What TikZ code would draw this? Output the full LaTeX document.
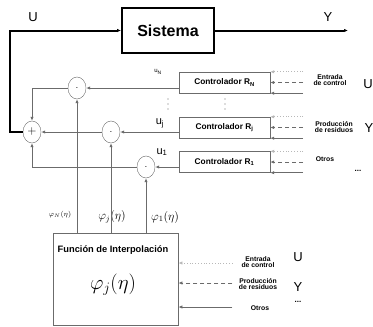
\documentclass[tikz,border=0pt]{standalone}
\usepackage{amsmath,amssymb}
\usepackage{fontspec}
\setsansfont{Liberation Sans}
\usepackage{xcolor}
\usetikzlibrary{arrows.meta,positioning,calc,shapes.geometric}
\definecolor{linegray}{gray}{0.42}
\definecolor{dotgray}{gray}{0.72}
\newcommand{\sz}[1]{\fontsize{#1}{#1}\selectfont}

\begin{document}
\begin{tikzpicture}[x=1pt,y=-1pt,>={Latex[length=4pt,width=3.4pt]},
  ctrl/.style={draw=linegray,minimum width=91pt,minimum height=21pt,inner sep=0pt,font=\sffamily\bfseries\sz{8.3}},
  mult/.style={draw=linegray,ellipse,minimum width=18pt,minimum height=22pt,inner sep=0pt},
  wire/.style={linegray,line width=0.8pt},
  note/.style={font=\sffamily\bfseries\sz{6.8}\linespread{1.1},align=center},
  sig/.style={font=\sffamily\sz{13}}]
  \useasboundingbox (0,0) rectangle (373,327);
  \node[draw,line width=1.8pt,minimum width=92pt,minimum height=45pt,font=\sffamily\bfseries\sz{16}] (sis) at (168,30.5) {Sistema};
  \node[sig] (uout) at (33,17) {U};
  \node[sig] (yout) at (328,17) {Y};
  \coordinate (corner) at (10,132);
  \coordinate (yend) at (348,30.5);
  \node[mult,font=\sz{12}] (sum) at (32,132) {+};
  \node[mult] (mN) at (77,88) {$\cdot$};
  \node[mult] (mj) at (111,132) {$\cdot$};
  \node[mult] (m1) at (146,167) {$\cdot$};
  \node[ctrl] (rN) at (224.5,82.5) {Controlador R\textsubscript{N}};
  \node[ctrl] (rj) at (224.5,127.5) {Controlador R\textsubscript{j}};
  \node[ctrl] (r1) at (224.5,162) {Controlador R\textsubscript{1}};
  \node[font=\sffamily\sz{6}] (uN) at (158,72) {u\textsubscript{N}};
  \node[font=\sffamily\sz{11}] (uj) at (160,123) {u\textsubscript{j}};
  \node[font=\sffamily\sz{11}] (u1) at (162,152) {u\textsubscript{1}};
  \foreach \x in {168,225}
    \foreach \y in {99,104,109}
      \fill[linegray] (\x,\y) circle (0.6pt);
  \node[draw=linegray,line width=0.8pt,minimum width=125pt,minimum height=92pt] (fi) at (115.5,279) {};
  \node[font=\sffamily\bfseries\sz{9.3}] (fitit) at (113,250) {Función de Interpolación};
  \node[font=\sz{20}] (fiphi) at (113,285) {$\varphi_j(\eta)$};
  \node[font=\sz{7}] (phN) at (60,215) {$\varphi_N(\eta)$};
  \node[font=\sz{12}] (phj) at (112,217) {$\varphi_j(\eta)$};
  \node[font=\sz{12}] (ph1) at (165,217) {$\varphi_1(\eta)$};
  % lazo principal
  \draw[line width=2pt,->] (sum) -- (corner) |- (sis);
  \draw[line width=2pt,->] (sis) -- (yend);
  \draw[wire,->] (rN.west |- mN) -- (mN);
  \draw[wire,->] (rj.west |- mj) -- (mj);
  \draw[wire,->] (r1.west |- m1) -- (m1);
  \draw[wire,->] (mN) -| (sum);
  \draw[wire,->] (mj) -- (sum);
  \draw[wire,->] (m1) -| (sum);
  \foreach \m in {mN,mj,m1}
    \draw[wire,->] (fi.north -| \m) -- (\m);
  % entradas de los controladores
  \foreach \r in {rN,rj,r1}{
    \draw[dotgray,dotted,line width=0.8pt,->] ($(\r.north east)+(33,0)$) -- (\r.north east);
    \draw[linegray,line width=0.8pt,dash pattern=on 4pt off 3pt,->] ($(\r.east)+(33,0)$) -- (\r.east);
    \draw[wire,->] ($(\r.south east)+(33,0)$) -- (\r.south east);
  }
  \node[note] (entN) at (330,80) {Entrada\\de control};
  \node[sig] (uN2) at (368,84) {U};
  \node[note] (prj) at (334,127) {Producción\\de residuos};
  \node[sig] (yj) at (369,128) {Y};
  \node[note] (otr) at (325,159) {Otros};
  \node[font=\sffamily\bfseries\sz{8}] (dots1) at (358,171) {...};
  % entradas de la interpolacion
  \draw[dotgray,dotted,line width=0.8pt,->] ($(fi.east)+(54,-16)$) -- ($(fi.east)+(0,-16)$);
  \draw[linegray,line width=0.8pt,dash pattern=on 4pt off 3pt,->] ($(fi.east)+(54,4)$) -- ($(fi.east)+(0,4)$);
  \draw[wire,->] ($(fi.east)+(54,28)$) -- ($(fi.east)+(0,28)$);
  \node[note] (entf) at (258,262) {Entrada\\de control};
  \node[sig] (uf) at (298,257) {U};
  \node[note] (prf) at (258,284) {Producción\\de residuos};
  \node[sig] (yf) at (298,287) {Y};
  \node[note] (otrf) at (260,308) {Otros};
  \node[font=\sffamily\bfseries\sz{8}] (dotsf) at (298,302) {...};
\end{tikzpicture}
\end{document}
